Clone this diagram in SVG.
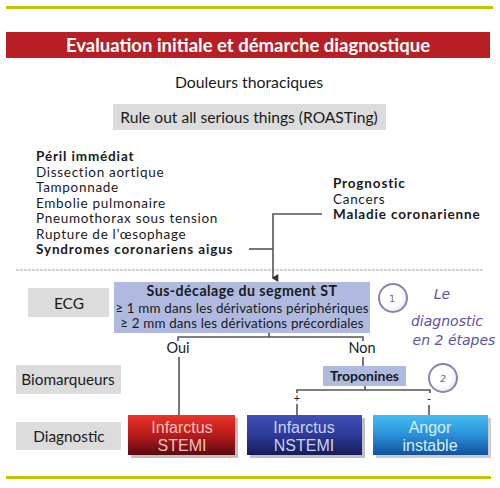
<svg xmlns="http://www.w3.org/2000/svg" width="500" height="488" viewBox="0 0 500 488">
<style>
.t{font-family:Lato,"Open Sans","Liberation Sans",sans-serif;fill:#1a1a1a}
.o{font-family:Lato,"Open Sans","Liberation Sans",sans-serif;fill:#1a1a1a;font-size:13.5px;letter-spacing:0.7px}
.b{font-weight:bold;letter-spacing:0.85px}
.c{text-anchor:middle}
.gray{fill:#dcdcdc}
.ln{stroke:#555;stroke-width:1.6;fill:none}
.hand{font-family:"DejaVu Sans",sans-serif;font-style:italic;fill:#5b52a3;font-size:14px}
.box{font-family:"Liberation Sans","DejaVu Sans",sans-serif;font-size:16px;text-anchor:middle}
.circ{fill:url(#cg);stroke:#8a82b4;stroke-width:2}
</style>
<defs>
<linearGradient id="red" x1="0" y1="0" x2="0" y2="1"><stop offset="0" stop-color="#ec3428"/><stop offset="0.5" stop-color="#b81a1c"/><stop offset="1" stop-color="#5c0a12"/></linearGradient>
<linearGradient id="blue" x1="0" y1="0" x2="0" y2="1"><stop offset="0" stop-color="#3f50b8"/><stop offset="0.5" stop-color="#2c3a98"/><stop offset="1" stop-color="#161c58"/></linearGradient>
<linearGradient id="cyan" x1="0" y1="0" x2="0" y2="1"><stop offset="0" stop-color="#45bdf2"/><stop offset="0.5" stop-color="#2a90d8"/><stop offset="1" stop-color="#12509c"/></linearGradient>
<radialGradient id="cg" cx="0.4" cy="0.4" r="0.7"><stop offset="0.6" stop-color="#ffffff"/><stop offset="1" stop-color="#dcd8ec"/></radialGradient>
<marker id="ar" viewBox="0 0 6 6" refX="3" refY="5" markerWidth="5" markerHeight="5" orient="auto-start-reverse"><path d="M0,1 L6,1 L3,6 z" fill="#333"/></marker>
</defs>
<rect width="500" height="488" fill="#ffffff"/>
<rect x="6" y="6" width="487" height="3" fill="#c0c400"/>
<rect x="6" y="476" width="485" height="3" fill="#c0c400"/>
<rect x="6" y="32" width="484" height="26" fill="#b81f24"/>
<text class="t c" x="248" y="52" font-size="18.5" font-weight="bold" style="fill:#ffffff">Evaluation initiale et démarche diagnostique</text>
<g id="douleurs"><text class="t c" x="249" y="88" font-size="15.8">Douleurs thoraciques</text></g>
<g id="roast"><rect class="gray" x="113" y="104" width="273" height="26"/><text class="t c" x="249" y="123" font-size="15.6">Rule out all serious things (ROASTing)</text></g>
<g id="peril">
<text x="36" y="161" class="o b">Péril immédiat</text>
<text x="36" y="176.5" class="o">Dissection aortique</text>
<text x="36" y="192" class="o">Tamponnade</text>
<text x="36" y="207.5" class="o">Embolie pulmonaire</text>
<text x="36" y="223" class="o">Pneumothorax sous tension</text>
<text x="36" y="238.5" class="o">Rupture de l’œsophage</text>
<text x="36" y="254" class="o b">Syndromes coronariens aigus</text>
</g>
<g id="prognostic">
<text x="333" y="188" class="o b">Prognostic</text>
<text x="333" y="203.5" class="o">Cancers</text>
<text x="333" y="219" class="o b">Maladie coronarienne</text>
</g>
<line x1="16" y1="270" x2="483" y2="270" stroke="#c4c4c4" stroke-width="1.6" stroke-dasharray="3 1"/>
<g id="ecg"><rect class="gray" x="28" y="288" width="81" height="29"/><text class="t c" x="69" y="309" font-size="15.5">ECG</text></g>
<g id="st"><rect x="114" y="282" width="256" height="51" fill="#b0bae0"/>
<text class="t c" x="242" y="296" font-size="14.2" font-weight="bold" letter-spacing="0.45">Sus-décalage du segment ST</text>
<text class="t c" x="242" y="312.5" font-size="13.4" letter-spacing="0.15">≥ 1 mm dans les dérivations périphériques</text>
<text class="t c" x="242" y="328" font-size="13.4" letter-spacing="0.15">≥ 2 mm dans les dérivations précordiales</text></g>
<g id="bio"><rect class="gray" x="16" y="365" width="105" height="29"/><text class="t c" x="68" y="385" font-size="15.3">Biomarqueurs</text></g>
<g id="diag"><rect class="gray" x="16" y="422" width="105" height="28"/><text class="t c" x="69" y="442" font-size="15.3">Diagnostic</text></g>
<g id="tropo"><rect x="323" y="366" width="83" height="20" fill="#b0bae0"/><text class="t c" x="364.5" y="381" font-size="14" font-weight="bold">Troponines</text></g>
<g id="stemi"><rect x="131" y="418" width="107" height="40" fill="#000" opacity="0.25"/><rect x="128" y="415" width="107" height="40" fill="url(#red)"/>
<text class="box" x="182" y="433" fill="#f6c4bc">Infarctus</text><text class="box" x="182" y="451" fill="#f6c4bc">STEMI</text></g>
<g id="nstemi"><rect x="250" y="418" width="115" height="40" fill="#000" opacity="0.25"/><rect x="247" y="415" width="115" height="40" fill="url(#blue)"/>
<text class="box" x="304" y="433" fill="#cbd2f2">Infarctus</text><text class="box" x="304" y="451" fill="#cbd2f2">NSTEMI</text></g>
<g id="angor"><rect x="376" y="418" width="115" height="40" fill="#000" opacity="0.2"/><rect x="373" y="415" width="115" height="40" fill="url(#cyan)"/>
<text class="box" x="430" y="433" fill="#d6f0ff">Angor</text><text class="box" x="430" y="451" fill="#d6f0ff">instable</text></g>
<g id="step1"><circle class="circ" cx="393" cy="298" r="14"/><text x="392" y="302" font-family="DejaVu Sans,sans-serif" font-size="9" fill="#6a62a8" text-anchor="middle">1</text></g>
<g id="step2"><circle class="circ" cx="443" cy="378" r="14"/><text x="443" y="382" font-family="DejaVu Sans,sans-serif" font-size="9" font-style="italic" fill="#6a62a8" text-anchor="middle">2</text></g>
<g id="note">
<text class="hand" x="442" y="299" text-anchor="middle">Le</text>
<text class="hand" x="447" y="326" text-anchor="middle" font-size="14.5">diagnostic</text>
<text class="hand" x="454" y="345" text-anchor="middle" font-size="12.5">en 2 étapes</text>
</g>
<g id="connectors">
<path class="ln" d="M322,214 H273 V278" marker-end="url(#ar)"/>
<path class="ln" d="M249,249 H273"/>
<path class="ln" d="M269,333 V337 M178,341 V337 H363 V341"/>
<text class="t c" x="178" y="353" font-size="14.5">Oui</text>
<text class="t c" x="362" y="353" font-size="14.5">Non</text>
<path class="ln" d="M179,357 V415"/>
<path class="ln" d="M363,357 V366"/>
<path class="ln" d="M365,386 V390 M297,393 V390 H430 V393"/>
<text class="t c" x="297" y="402" font-size="11">+</text>
<text class="t c" x="429" y="403" font-size="11">-</text>
<path class="ln" d="M297,404 V415 M429,405 V415"/>
</g>
</svg>
